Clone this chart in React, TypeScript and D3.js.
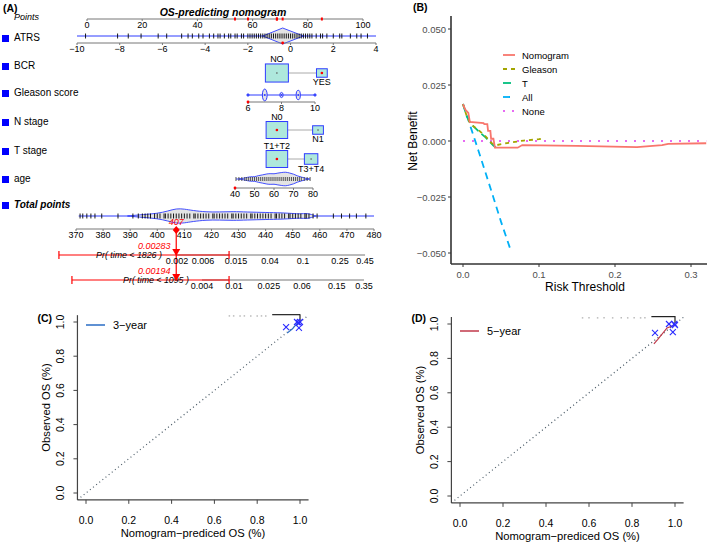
import React from "react";
import * as d3 from "d3";

// ---------- (A) nomogram data ----------
const pointTicks = [0, 20, 40, 60, 80, 100];
const atrsTicks = [-10, -8, -6, -4, -2, 0, 2, 4];
const atrsRug = [-9.6, -8.1, -7.6, -7.0, -6.2, -5.8, -5.1, -4.8, -4.6, -4.3, -4.1, -3.8, -3.6, -3.4, -3.3, -3.1,
  -2.9, -2.8, -2.6, -2.5, -2.3, -2.2, -2.0, -1.9, -1.8, -1.7, -1.6, -1.5, -1.4, -1.3, -1.2, -1.1, -1.0, -0.9,
  -0.8, -0.7, -0.6, -0.5, -0.4, -0.3, -0.2, -0.1, 0.0, 0.1, 0.2, 0.3, 0.4, 0.5, 0.6, 0.7, 0.8, 0.9, 1.0, 1.2,
  1.4, 1.5, 1.7, 2.0, 2.3, 2.4, 2.8, 3.1, 3.3, 3.6];
const atrsShape: [number, number][] = [[-1.3, 0], [-0.37, 8], [0.6, 0]];

const bcrLevels = ["NO", "YES"];
const bcrPoints = [68.8, 85.1];
const bcrFreq = [0.82, 0.18];

const gleasonTicks = [6, 8, 10];
const gleasonLevels = [6, 7, 8, 9, 10];
const gleasonFreq = [0.03, 0.46, 0.2, 0.36, 0.04];

const nLevels = ["N0", "N1"];
const nPoints = [68.8, 83.7];
const nFreq = [0.72, 0.18];

const tLevels = ["T1+T2", "T3+T4"];
const tPoints = [68.8, 81.2];
const tFreq = [0.72, 0.28];

const ageTicks = [40, 50, 60, 70, 80];
const ageRug = [40.5, 42, 43.5, 45, 46, 47, 48, 49, 50, 51, 52, 53, 54, 55, 56, 57, 58, 59, 60, 61, 62, 63,
  64, 65, 66, 67, 68, 69, 70, 71, 72, 73, 74, 75.5, 77, 78.5];
const ageShape: [number, number][] = [[42, 0], [45, 1], [48, 2.5], [50, 2], [52, 3.5], [54, 4], [56, 5],
  [58, 5.5], [60, 5], [62, 6], [64, 6.5], [66, 7], [68, 6], [70, 5], [72, 3], [74, 2], [76, 0.8], [78, 0]];

const totalTicks = [370, 380, 390, 400, 410, 420, 430, 440, 450, 460, 470, 480];
const totalRug = [371.5, 372.5, 374, 375.5, 377, 379.5, 385.5, 391, 393, 394.5, 395.5, 396.5, 397.5, 399,
  400, 401, 402.5, 403, 404, 405, 406, 407, 408, 409, 410, 411, 412, 413.5, 414, 415, 416, 417, 418, 419,
  420.5, 421, 422, 423, 424, 425, 426, 427.5, 428, 429, 430, 431, 432, 433, 434.5, 435, 436, 437, 438,
  439, 440, 441, 442, 443.5, 444, 445, 446, 447, 448.5, 449, 450, 451, 452, 453, 454.5, 455, 456, 457.5,
  459, 465, 468, 471, 473.5, 477];
const totalShape: [number, number][] = [[389, 0], [395, 1.5], [400, 2.5], [404, 5], [407, 7.5], [410, 7],
  [413, 5.5], [418, 4], [423, 4], [428, 4.5], [433, 4], [440, 3.5], [446, 3.2], [450, 2.5], [453, 2],
  [455, 2.8], [457, 1.5], [458.5, 0]];

const patientAtrs = -0.37;
const patientBcr = "YES";
const patientGleason = 6;
const patientN = "N0";
const patientT = "T1+T2";
const patientAge = 40;
const patientTotal = 407;

const pr1826Labels = ["0.002", "0.006", "0.015", "0.04", "0.1", "0.25", "0.45"];
const pr1826At = [407.3, 416.9, 429.1, 441.6, 453.8, 467.5, 476.7];
const pr1095Labels = ["0.004", "0.01", "0.025", "0.06", "0.15", "0.35"];
const pr1095At = [416.5, 428.3, 441.2, 453.4, 466.3, 476.3];
const pr1826Value = "0.00283";
const pr1095Value = "0.00194";
const pr1826Ci = [363.7, 426.5];
const pr1095Ci = [368.5, 426.5];

// ---------- (B) decision curve data ----------
const dcaTicksY = [0.05, 0.025, 0, -0.025, -0.05];
const dcaTicksX = [0, 0.1, 0.2, 0.3];
const nomX = [0, 0.003, 0.007, 0.009, 0.027, 0.028, 0.032, 0.033, 0.036, 0.037, 0.04, 0.042, 0.072, 0.078,
  0.15, 0.229, 0.262, 0.27, 0.32];
const nomY = [0.0165, 0.014, 0.0125, 0.0085, 0.008, 0.0075, 0.0075, 0.0045, 0.0045, 0.001, 0.001, -0.003,
  -0.003, -0.0018, -0.0022, -0.0027, -0.0018, -0.0013, -0.001];
const gleX = [0, 0.005, 0.01, 0.02, 0.03, 0.038, 0.045, 0.06, 0.08, 0.1, 0.105];
const gleY = [0.0165, 0.011, 0.0075, 0.005, 0.002, -0.001, -0.0018, -0.0008, 0.0002, 0.0008, 0.0012];
const tX = [0, 0.005, 0.01, 0.02, 0.03, 0.04, 0.045];
const tY = [0.0165, 0.011, 0.0078, 0.0045, 0.0015, -0.002, -0.0035];
const allX = [0, 0.01, 0.02, 0.03, 0.04, 0.05, 0.062];
const allY = [0.0165, 0.0063, -0.004, -0.0145, -0.0252, -0.036, -0.048];
const noneX = [0, 0.32];
const noneY = [0, 0];
const dcaNames = ["Nomogram", "Gleason", "T", "All", "None"];
const dcaColors = ["#F8766D", "#A3A500", "#00BF7D", "#00B0F6", "#E76BF3"];
const dcaDash = ["", "4,4", "8,4", "7,5", "2,7"];

// ---------- (C)/(D) calibration data ----------
const calTicks = [0, 0.2, 0.4, 0.6, 0.8, 1.0];
const cal3Pred = [0.935, 0.986, 0.995, 1.0, 0.995];
const cal3Obs = [0.97, 1.0, 0.995, 1.0, 0.965];
const cal3LinePred = [0.94, 0.965, 0.985, 0.998];
const cal3LineObs = [0.935, 0.96, 0.99, 1.0];
const cal3RugFaint = [0.67, 0.69, 0.72, 0.74, 0.77, 0.8, 0.82, 0.84];
const cal3RugDense = [0.87, 0.89, 0.91, 0.93, 0.95, 0.97, 0.99, 1.0];
const cal5Pred = [0.907, 0.972, 0.99, 1.0, 0.997];
const cal5Obs = [0.948, 1.0, 0.953, 0.994, 1.0];
const cal5LinePred = [0.902, 0.92, 0.963, 0.99];
const cal5LineObs = [0.885, 0.91, 0.977, 0.99];
const cal5RugFaint = [0.57, 0.6, 0.64, 0.67, 0.71, 0.75, 0.78, 0.81, 0.84, 0.86];
const cal5RugDense = [0.89, 0.91, 0.93, 0.95, 0.97, 0.99, 1.0];

const FONT = "'Liberation Sans', Arial, sans-serif";
const BLUE = "#2f3cff";
const BOXFILL = "#aee8dc";
const fmt = (t: number) => String(t).replace("-", "\u2212");

const px = d3.scaleLinear().domain([0, 100]).range([87, 363]);
const atrsX = d3.scaleLinear().domain([-10, 4]).range([77, 376]);
const gleX2 = d3.scaleLinear().domain([6, 10]).range([248, 315]);
const ageX = d3.scaleLinear().domain([40, 80]).range([235, 313]);
const totX = d3.scaleLinear().domain([370, 480]).range([76, 374]);

function NomAxis({ x, ticks, labels, y }: any) {
  const a = x(ticks[0]);
  const b = x(ticks[ticks.length - 1]);
  return (
    <g>
      <line x1={a} x2={b} y1={y} y2={y} stroke="#777" strokeWidth={1} />
      {ticks.map((t: number, i: number) => (
        <g key={i}>
          <line x1={x(t)} x2={x(t)} y1={y} y2={y + 2} stroke="#777" />
          <text x={x(t)} y={y + 8.5} textAnchor="middle" fontSize={9}>
            {labels ? labels[i] : fmt(t)}
          </text>
        </g>
      ))}
    </g>
  );
}

function Rug({ x, values, y, h = 2.5, color = "#000" }: any) {
  return (
    <g stroke={color} strokeWidth={0.9}>
      {values.map((v: number, i: number) => (
        <line key={i} x1={x(v)} x2={x(v)} y1={y - h} y2={y + h} />
      ))}
    </g>
  );
}

function Violin({ x, shape, y, curve }: any) {
  const area = d3
    .area<[number, number]>()
    .x((d) => x(d[0]))
    .y0((d) => y - d[1])
    .y1((d) => y + d[1])
    .curve(curve || d3.curveLinear);
  return <path d={area(shape) || ""} fill="#e4e4e4" stroke={BLUE} strokeWidth={0.9} />;
}

function CatRow({ levels, pts, freq, y, patient }: any) {
  return (
    <g>
      <line x1={px(pts[0])} x2={px(pts[pts.length - 1])} y1={y} y2={y} stroke="#aaa" />
      {levels.map((lv: string, i: number) => {
        const w = 25.4 * Math.sqrt(freq[i]);
        const h = 20 * Math.sqrt(freq[i]);
        const cx = px(pts[i]);
        return (
          <g key={lv}>
            <rect x={cx - w / 2} y={y - h / 2} width={w} height={h} fill={BOXFILL} stroke={BLUE} strokeWidth={1} />
            <circle cx={cx} cy={y} r={0.8} fill={lv === patient ? "red" : "#555"} />
            {lv === patient && <circle cx={cx} cy={y} r={1.3} fill="red" />}
            <text x={cx} y={i === 0 ? y - h / 2 - 1.5 : y + h / 2 + 8} textAnchor="middle" fontSize={9}>
              {lv}
            </text>
          </g>
        );
      })}
    </g>
  );
}

function RowLabel({ y, text, bold }: any) {
  return (
    <g>
      <rect x={2} y={y - 2} width={7} height={7} fill="#0000ff" />
      <text x={14} y={y + 3.5} fontSize={10} fontWeight={bold ? "bold" : "normal"} fontStyle={bold ? "italic" : "normal"}>
        {text}
      </text>
    </g>
  );
}

function Nomogram() {
  const patientXs = [
    atrsX(patientAtrs),
    px(bcrPoints[bcrLevels.indexOf(patientBcr)]),
    gleX2(patientGleason),
    px(nPoints[nLevels.indexOf(patientN)]),
    px(tPoints[tLevels.indexOf(patientT)]),
    ageX(patientAge),
  ];
  const tp = totX(patientTotal);
  const prRow = (labels: string[], at: number[], ci: number[], y: number, value: string, title: string, titleX: number) => (
    <g>
      <line x1={totX(at[0])} x2={totX(at[at.length - 1])} y1={y} y2={y} stroke="#777" />
      {at.map((a, i) => (
        <text key={i} x={totX(a)} y={y + 8.5} textAnchor="middle" fontSize={9}>
          {labels[i]}
        </text>
      ))}
      <line x1={totX(ci[0])} x2={totX(ci[1])} y1={y} y2={y} stroke="red" strokeWidth={1.2} />
      <line x1={totX(ci[0])} x2={totX(ci[0])} y1={y - 4} y2={y + 4} stroke="red" strokeWidth={1.2} />
      <line x1={totX(ci[1])} x2={totX(ci[1])} y1={y - 4} y2={y + 4} stroke="red" strokeWidth={1.2} />
      <text x={titleX} y={y + 3} textAnchor="middle" fontSize={8.8} fontStyle="italic">
        {title}
      </text>
      <path d={`M${tp - 4},${y - 6}L${tp + 4},${y - 6}L${tp},${y + 1}Z`} fill="red" />
      <text x={tp - 22} y={y - 6.5} textAnchor="middle" fontSize={9} fontStyle="italic" fill="red">
        {value}
      </text>
    </g>
  );
  return (
    <g>
      <text x={3} y={12} fontSize={10.5} fontWeight="bold">(A)</text>
      <text x={14} y={20} fontSize={9} fontStyle="italic">Points</text>
      <text x={223} y={16} fontSize={10.5} fontWeight="bold" fontStyle="italic" textAnchor="middle">
        OS-predicting nomogram
      </text>
      <NomAxis x={px} ticks={pointTicks} y={19} />
      {patientXs.map((x, i) => (
        <line key={i} x1={x} x2={x} y1={17.5} y2={20.5} stroke="red" strokeWidth={2} />
      ))}

      <RowLabel y={37} text="ATRS" />
      <line x1={atrsX(-10)} x2={atrsX(4)} y1={36} y2={36} stroke={BLUE} />
      <Violin x={atrsX} shape={atrsShape} y={36} />
      <Rug x={atrsX} values={atrsRug} y={36} h={2.5} />
      <NomAxis x={atrsX} ticks={atrsTicks} y={43} />
      <circle cx={atrsX(patientAtrs)} cy={43} r={1.4} fill="red" />

      <RowLabel y={65} text="BCR" />
      <CatRow levels={bcrLevels} pts={bcrPoints} freq={bcrFreq} y={73} patient={patientBcr} />

      <RowLabel y={92} text="Gleason score" />
      <line x1={gleX2(6)} x2={gleX2(10)} y1={95} y2={95} stroke={BLUE} />
      {gleasonLevels.map((g, i) => (
        <g key={g}>
          <ellipse cx={gleX2(g)} cy={95} rx={1 + gleasonFreq[i] * 3} ry={Math.max(1.2, gleasonFreq[i] * 13)} fill="#e4e4e4" stroke={BLUE} />
          <circle cx={gleX2(g)} cy={95} r={1.1} fill={BLUE} />
        </g>
      ))}
      <NomAxis x={gleX2} ticks={gleasonTicks} y={102} />
      <circle cx={gleX2(patientGleason)} cy={102} r={1.4} fill="red" />

      <RowLabel y={121} text="N stage" />
      <CatRow levels={nLevels} pts={nPoints} freq={nFreq} y={130} patient={patientN} />

      <RowLabel y={150} text="T stage" />
      <CatRow levels={tLevels} pts={tPoints} freq={tFreq} y={159} patient={patientT} />

      <RowLabel y={178} text="age" />
      <line x1={ageX(40.5)} x2={ageX(78.5)} y1={179} y2={179} stroke={BLUE} />
      <Violin x={ageX} shape={ageShape} y={179} curve={d3.curveBasis} />
      <Rug x={ageX} values={ageRug} y={179} h={2} color="#444" />
      <NomAxis x={ageX} ticks={ageTicks} y={188} />
      <circle cx={ageX(patientAge)} cy={188} r={1.4} fill="red" />

      <RowLabel y={204} text="Total points" bold />
      <line x1={totX(371)} x2={totX(480)} y1={216} y2={216} stroke={BLUE} />
      <Violin x={totX} shape={totalShape} y={216} curve={d3.curveBasis} />
      <Rug x={totX} values={totalRug} y={216} h={2.5} />
      <NomAxis x={totX} ticks={totalTicks} y={229} />

      <line x1={tp} x2={tp} y1={229} y2={280} stroke="red" strokeWidth={1.2} />
      <path d={`M${tp},${226}L${tp + 3.5},${230}L${tp},${234}L${tp - 3.5},${230}Z`} fill="red" />
      <text x={tp} y={225} textAnchor="middle" fontSize={9} fontStyle="italic" fill="red">
        {patientTotal}
      </text>
      {prRow(pr1826Labels, pr1826At, pr1826Ci, 255, pr1826Value, "Pr( time < 1826 )", 129)}
      {prRow(pr1095Labels, pr1095At, pr1095Ci, 280, pr1095Value, "Pr( time < 1095 )", 156)}
    </g>
  );
}

// ---------- (B) ----------
function Dca() {
  const x = d3.scaleLinear().domain([0, 0.1]).range([463, 539]);
  const y = d3.scaleLinear().domain([0, 0.025]).range([141, 85]);
  const left = 451, right = 707, top = 16, bottom = 264;
  const series = [
    [nomX, nomY],
    [gleX, gleY],
    [tX, tY],
    [allX, allY],
    [noneX, noneY],
  ];
  const path = (xs: number[], ys: number[]) =>
    d3.line<number>().x((_, i) => x(xs[i])).y((_, i) => y(ys[i]))(xs) || "";
  return (
    <g>
      <text x={413} y={11} fontSize={10.5} fontWeight="bold">(B)</text>
      {series
        .map((s, i) => ({ s, i }))
        .reverse()
        .map(({ s, i }) => (
          <path key={i} d={path(s[0], s[1])} fill="none" stroke={dcaColors[i]} strokeWidth={1.8} strokeDasharray={dcaDash[i]} />
        ))}
      <line x1={left} x2={left} y1={top} y2={bottom} stroke="#333" strokeWidth={1.6} />
      <line x1={left} x2={right} y1={bottom} y2={bottom} stroke="#333" strokeWidth={1.6} />
      {dcaTicksY.map((t) => (
        <g key={t}>
          <line x1={left - 3} x2={left} y1={y(t)} y2={y(t)} stroke="#333" />
          <text x={left - 5} y={y(t) + 3.5} textAnchor="end" fontSize={9.5} fill="#4d4d4d">
            {d3.format(".3f")(t).replace("-", "\u2212")}
          </text>
        </g>
      ))}
      {dcaTicksX.map((t) => (
        <g key={t}>
          <line x1={x(t)} x2={x(t)} y1={bottom} y2={bottom + 3} stroke="#333" />
          <text x={x(t)} y={bottom + 14} textAnchor="middle" fontSize={9.5} fill="#4d4d4d">
            {d3.format(".1f")(t)}
          </text>
        </g>
      ))}
      <text x={585} y={291} textAnchor="middle" fontSize={12}>Risk Threshold</text>
      <text transform={`translate(417,${141}) rotate(-90)`} textAnchor="middle" fontSize={12}>Net Benefit</text>
      {dcaNames.map((n, i) => (
        <g key={n}>
          <line x1={503} x2={515} y1={55 + i * 14} y2={55 + i * 14} stroke={dcaColors[i]} strokeWidth={1.8} strokeDasharray={dcaDash[i]} />
          <text x={522} y={58.5 + i * 14} fontSize={9.5}>{n}</text>
        </g>
      ))}
    </g>
  );
}

// ---------- (C)/(D) ----------
function Calib({ tag, xr, yr, pred, obs, lp, lo, rugFaint, rugDense, legend, color, legendY }: any) {
  const x = d3.scaleLinear().domain([0, 1]).range(xr);
  const y = d3.scaleLinear().domain([0, 1]).range(yr);
  const x0 = x(-0.04), x1 = x(1.04), y0 = y(-0.04), y1 = y(1.04);
  const line = d3.line<number>().x((_, i) => x(lp[i])).y((_, i) => y(lo[i]));
  const midX = (x(0) + x(1)) / 2;
  const midY = (y(0) + y(1)) / 2;
  return (
    <g>
      <text x={x0 - 40} y={322} fontSize={10.5} fontWeight="bold">{tag}</text>
      <line x1={x0} y1={y0} x2={x1} y2={y1} stroke="#4a5a66" strokeWidth={1.2} strokeDasharray="1,3" />
      {rugFaint.map((v: number, i: number) => (
        <line key={i} x1={x(v)} x2={x(v)} y1={y1} y2={y1 + 1.5} stroke="#bbb" strokeWidth={1.5} />
      ))}
      <line x1={x(rugDense[0])} x2={x(rugDense[rugDense.length - 1])} y1={y1 - 0.5} y2={y1 - 0.5} stroke="#222" strokeWidth={1.2} />
      <line x1={x(1)} x2={x(1)} y1={y1 - 1} y2={y1 + 6} stroke="#222" strokeWidth={1.2} />
      <path d={line(lp) || ""} fill="none" stroke={color} strokeWidth={1.2} />
      {pred.map((p: number, i: number) => (
        <g key={i} stroke="#2b2bff" strokeWidth={1.1}>
          <line x1={x(p) - 3} x2={x(p) + 3} y1={y(obs[i]) - 3} y2={y(obs[i]) + 3} />
          <line x1={x(p) - 3} x2={x(p) + 3} y1={y(obs[i]) + 3} y2={y(obs[i]) - 3} />
        </g>
      ))}
      <line x1={x0} x2={x0} y1={y0} y2={y1} stroke="#444" strokeWidth={1.2} />
      <line x1={x0} x2={x1} y1={y0} y2={y0} stroke="#444" strokeWidth={1.2} />
      {calTicks.map((t) => (
        <g key={t}>
          <line x1={x(t)} x2={x(t)} y1={y0} y2={y0 + 4} stroke="#444" />
          <text x={x(t)} y={y0 + 24} textAnchor="middle" fontSize={10.5}>{d3.format(".1f")(t)}</text>
          <line x1={x0 - 4} x2={x0} y1={y(t)} y2={y(t)} stroke="#444" />
          <text transform={`translate(${x0 - 13},${y(t)}) rotate(-90)`} textAnchor="middle" fontSize={10.5}>
            {d3.format(".1f")(t)}
          </text>
        </g>
      ))}
      <text x={midX} y={y0 + 37} textAnchor="middle" fontSize={11.2}>{"Nomogram\u2212prediced OS (%)"}</text>
      <text transform={`translate(${x0 - 27},${midY}) rotate(-90)`} textAnchor="middle" fontSize={11.2}>
        Observed OS (%)
      </text>
      <line x1={x(0)} x2={x(0) + 19} y1={legendY} y2={legendY} stroke={color} strokeWidth={1.5} />
      <text x={x(0) + 27} y={legendY + 4} fontSize={11}>{legend}</text>
    </g>
  );
}

export default function App() {
  return (
    <svg width={709} height={542} style={{ position: "absolute", left: 0, top: 0, background: "#fff" }} fontFamily={FONT}>
      <rect width={709} height={542} fill="#fff" />
      <Nomogram />
      <Dca />
      <Calib tag="(C)" xr={[86, 300]} yr={[493, 322]} pred={cal3Pred} obs={cal3Obs} lp={cal3LinePred} lo={cal3LineObs}
        rugFaint={cal3RugFaint} rugDense={cal3RugDense} legend={"3\u2212year"} color="#2a6cc4" legendY={325} />
      <Calib tag="(D)" xr={[460, 675]} yr={[496, 324]} pred={cal5Pred} obs={cal5Obs} lp={cal5LinePred} lo={cal5LineObs}
        rugFaint={cal5RugFaint} rugDense={cal5RugDense} legend={"5\u2212year"} color="#c0394a" legendY={331} />
    </svg>
  );
}
